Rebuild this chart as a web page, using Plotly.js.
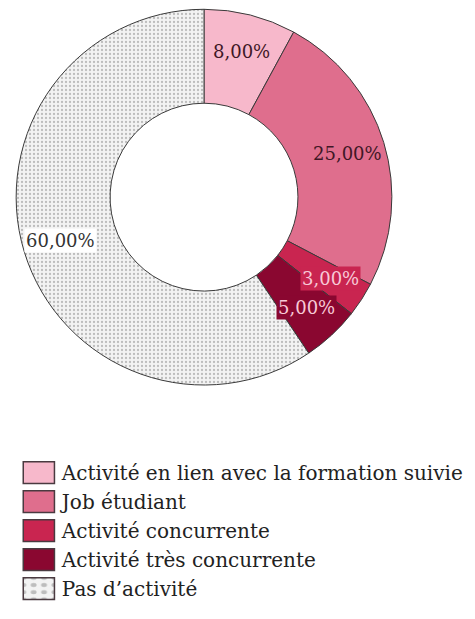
<!DOCTYPE html>
<html>
<head>
<meta charset="utf-8">
<script src="https://cdn.plot.ly/plotly-3.0.1.min.js"></script>
<style>html,body{margin:0;padding:0;background:#fff;}#chart{width:475px;height:619px;}</style>
</head>
<body>
<div id="chart"></div>
<script>
const categories = [
  "Activité en lien avec la formation suivie",
  "Job étudiant",
  "Activité concurrente",
  "Activité très concurrente",
  "Pas d’activité"
];
const values = [8, 25, 3, 5, 60];
const sliceColors = ["#f7b8cb", "#df6e8d", "#c92550", "#8a0730", "#f3f3f3"];
const patternShapes = ["", "", "", "", "."];
const labelColors = ["#3f1726", "#3f1726", "#f8c9d7", "#f8c9d7", "#333333"];
const labelBg = ["rgba(0,0,0,0)", "rgba(0,0,0,0)", "#c92550", "#8a0730", "#ffffff"];

const W = 475, H = 619;
const domX = [0.0316, 0.8274];
const domY = [0.378, 0.985];
const hole = 0.5;

const trace = {
  type: "pie",
  labels: categories,
  values: values,
  sort: false,
  direction: "clockwise",
  rotation: 0,
  hole: hole,
  textinfo: "none",
  hoverinfo: "label+value",
  domain: {x: domX, y: domY},
  marker: {
    colors: sliceColors,
    line: {color: "#3a3a3a", width: 1},
    pattern: {shape: patternShapes, fgcolor: "#bdbdbd", bgcolor: "#f3f3f3", size: 4, solidity: 0.25}
  }
};

// label positions derived from the data (slice mid-angles)
const total = values.reduce((a, b) => a + b, 0);
const cxp = (domX[0] + domX[1]) / 2, cyp = (domY[0] + domY[1]) / 2;
const Rpx = Math.min((domX[1] - domX[0]) * W, (domY[1] - domY[0]) * H) / 2;
const labelR = 0.8 * Rpx;
let cum = 0;
const annotations = values.map((v, i) => {
  const mid = (cum + v / 2) / total * 2 * Math.PI;
  cum += v;
  const txt = v.toFixed(2).replace(".", ",") + "%";
  return {
    xref: "paper", yref: "paper",
    x: cxp + labelR * Math.sin(mid) / W,
    y: cyp + labelR * Math.cos(mid) / H,
    text: txt,
    showarrow: false,
    font: {family: "DejaVu Serif, serif", size: 18, color: labelColors[i]},
    bgcolor: labelBg[i],
    borderpad: 1,
    xanchor: "center", yanchor: "middle"
  };
});

const layout = {
  width: W, height: H,
  margin: {l: 0, r: 0, t: 0, b: 0},
  paper_bgcolor: "#ffffff",
  showlegend: true,
  separators: ", ",
  legend: {
    x: 0.046, y: 0.268, xanchor: "left", yanchor: "top",
    font: {family: "DejaVu Serif, serif", size: 20, color: "#222222"},
    tracegroupgap: 0, itemclick: false
  },
  annotations: annotations
};

Plotly.newPlot("chart", [trace], layout, {displayModeBar: false, staticPlot: true}).then(() => {
  document.querySelectorAll("#chart .legendpoints path").forEach(p => {
    const t = p.getAttribute("transform") || "";
    p.setAttribute("transform", t + " translate(-3,0) scale(2.6,1.8)");
    p.style.strokeWidth = "1.5px";
    p.style.stroke = "#4a3a40";
    p.setAttribute("vector-effect", "non-scaling-stroke");
  });
});
</script>
</body>
</html>
